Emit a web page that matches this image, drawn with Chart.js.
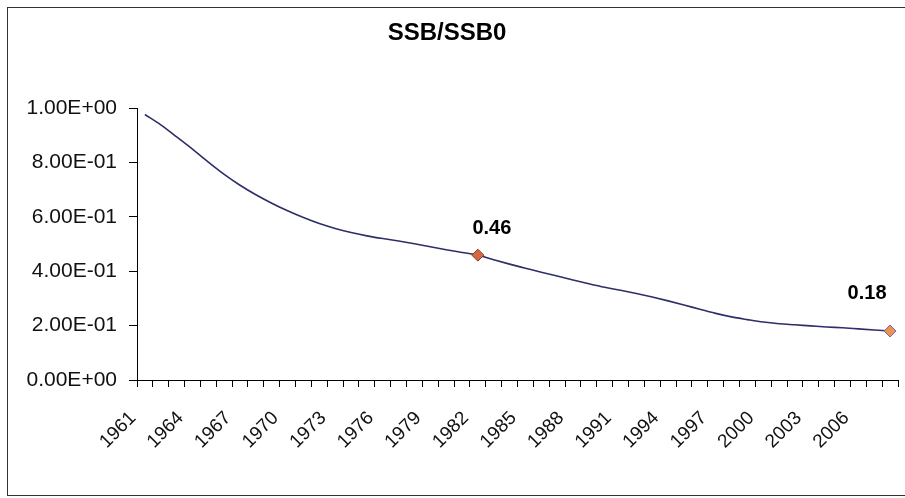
<!DOCTYPE html>
<html>
<head>
<meta charset="utf-8">
<script src="https://cdn.jsdelivr.net/npm/chart.js@4.4.1/dist/chart.umd.min.js"></script>
<style>
  html, body { margin: 0; padding: 0; background: #fff; overflow: hidden; }
  #frame {
    position: absolute; left: 7px; top: 7px;
    width: 910px; height: 487px;
    border: 1px solid #333;
    background: #fff;
  }
  #wrap { position: absolute; left: 0; top: 0; width: 897px; height: 487px; }
</style>
</head>
<body>
<div id="frame"><div id="wrap"><canvas id="stage"></canvas></div></div>
<script>
// years on the category axis
const years = [];
for (let y = 1961; y <= 2008; y++) years.push(String(y));

// SSB/SSB0
const ssbRatio = [
  0.976, 0.938, 0.894, 0.849, 0.801, 0.756, 0.716, 0.681, 0.650, 0.622,
  0.597, 0.575, 0.557, 0.542, 0.530, 0.520, 0.511, 0.501, 0.490, 0.479,
  0.469, 0.459, 0.442, 0.426, 0.411, 0.396, 0.382, 0.368, 0.354, 0.341,
  0.330, 0.318, 0.305, 0.291, 0.276, 0.260, 0.245, 0.232, 0.222, 0.213,
  0.207, 0.203, 0.199, 0.195, 0.192, 0.188, 0.184, 0.180
];

// years that carry a marker and a value label
const markedYears = ['1982', '2008'];
const markerFill = ['#d2693f', '#eb9548'];
const markerEdge = ['#8a3b2a', '#7a5cc0'];

// y tick values
const yTicks = [0, 0.2, 0.4, 0.6, 0.8, 1.0];

function excelExp(v) {
  const parts = Number(v).toExponential(2).split('e');
  let e = parseInt(parts[1], 10);
  const sign = e < 0 ? '-' : '+';
  e = Math.abs(e);
  return parts[0] + 'E' + sign + (e < 10 ? '0' + e : e);
}

function markIndex(ctx) {
  return markedYears.indexOf(years[ctx.dataIndex]);
}

// title + value labels drawn on the canvas
const textPlugin = {
  id: 'textPlugin',
  afterDatasetsDraw(chart) {
    const ctx = chart.ctx;
    ctx.save();
    ctx.fillStyle = '#000';
    ctx.textAlign = 'center';
    ctx.textBaseline = 'middle';
    ctx.font = 'bold 24px "Liberation Sans", Arial, sans-serif';
    ctx.fillText('SSB/SSB0', 439, 25);

    const meta = chart.getDatasetMeta(0);
    ctx.font = 'bold 20px "Liberation Sans", Arial, sans-serif';
    markedYears.forEach(function(yr, k) {
      const i = years.indexOf(yr);
      const pt = meta.data[i];
      const txt = ssbRatio[i].toFixed(2);
      // first label sits up-right, the last one is pushed left by the edge
      const dx = k === 0 ? 14 : -23;
      const dy = k === 0 ? -27 : -38;
      ctx.fillText(txt, pt.x + dx, pt.y + dy);
    });
    ctx.restore();
  }
};

const data = {
  labels: years,
  datasets: [{
    label: 'SSB/SSB0',
    data: ssbRatio,
    borderColor: '#2e2e68',
    borderWidth: 1.6,
    cubicInterpolationMode: 'monotone',
    fill: false,
    pointStyle: 'rectRot',
    pointRadius: function(ctx) { return markIndex(ctx) >= 0 ? 6 : 0; },
    pointHoverRadius: 0,
    pointBackgroundColor: function(ctx) {
      const k = markIndex(ctx);
      return k >= 0 ? markerFill[k] : 'transparent';
    },
    pointBorderColor: function(ctx) {
      const k = markIndex(ctx);
      return k >= 0 ? markerEdge[k] : 'transparent';
    },
    pointBorderWidth: 1
  }]
};

const options = {
  responsive: true,
  maintainAspectRatio: false,
  animation: false,
  layout: { padding: { top: 100, right: 6, left: 0, bottom: 0 } },
  plugins: {
    legend: { display: false },
    title: { display: false },
    tooltip: { enabled: false }
  },
  scales: {
    x: {
      type: 'category',
      offset: true,
      grid: {
        offset: true,
        drawOnChartArea: false,
        drawTicks: true,
        tickLength: 7,
        color: '#000',
        lineWidth: 1
      },
      border: { color: '#000', width: 1 },
      ticks: {
        autoSkip: false,
        maxRotation: 45,
        minRotation: 45,
        padding: 20,
        labelOffset: -12,
        color: '#111',
        font: { family: '"Liberation Sans", Arial, sans-serif', size: 19 },
        callback: function(val, idx) {
          return idx % 3 === 0 ? years[idx] : '';
        }
      },
      afterFit: function(scale) {
        scale.height = 115;
        scale.paddingLeft = 0;
        scale.paddingRight = 0;
      }
    },
    y: {
      min: 0,
      max: 1,
      afterBuildTicks: function(scale) {
        scale.ticks = yTicks.map(function(v) { return { value: v }; });
      },
      grid: {
        drawOnChartArea: false,
        drawTicks: true,
        tickLength: 8,
        color: '#000',
        lineWidth: 1
      },
      border: { color: '#000', width: 1 },
      ticks: {
        padding: 12,
        color: '#111',
        font: { family: '"Liberation Sans", Arial, sans-serif', size: 21 },
        callback: function(v) { return excelExp(v); }
      },
      afterFit: function(scale) {
        scale.width = 129;
        scale.paddingTop = 0;
        scale.paddingBottom = 0;
      }
    }
  }
};

const chart = new Chart(document.getElementById('stage'), {
  type: 'line',
  data: data,
  options: options,
  plugins: [textPlugin]
});
</script>
</body>
</html>
